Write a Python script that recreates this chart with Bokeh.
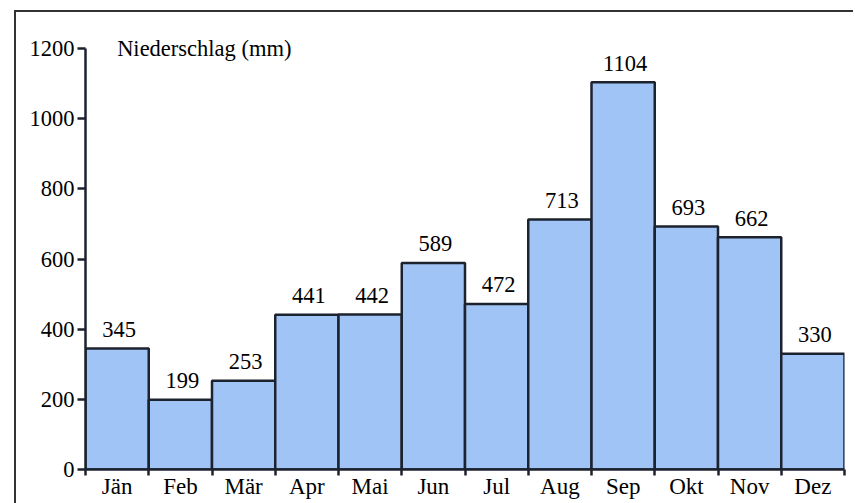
from bokeh.plotting import figure
from bokeh.models import FixedTicker, Label, ColumnDataSource, Range1d
from bokeh.core.properties import value
from bokeh.embed import file_html
from bokeh.resources import INLINE

months = ["Jän", "Feb", "Mär", "Apr", "Mai", "Jun", "Jul", "Aug", "Sep", "Okt", "Nov", "Dez"]
precip = [345, 199, 253, 441, 442, 589, 472, 713, 1104, 693, 662, 330]
y_ticks = [0, 200, 400, 600, 800, 1000, 1200]
title_text = "Niederschlag (mm)"

AXIS_FONT = "Liberation Serif"
FS = "22.5px"
DARK = "#1c222e"

x_center = [i + 0.5 for i in range(len(months))]
src = ColumnDataSource(dict(x=x_center, top=precip, label=[str(v) for v in precip]))

p = figure(width=839, height=493,
           x_range=Range1d(0, len(months)), y_range=Range1d(0, 1260),
           output_backend="svg", toolbar_location=None,
           min_border_left=69, min_border_right=11, min_border_top=15, min_border_bottom=36)

p.vbar(x="x", top="top", bottom=0, width=1, source=src,
       fill_color="#A0C4F5", line_color=DARK, line_width=2.5)
p.text(x="x", y="top", text="label", source=src, text_align="center",
       text_baseline="alphabetic", x_offset=2, y_offset=-19, text_font=value("Times New Roman"),
       text_font_size=FS, text_color="black")

p.add_layout(Label(x=0.5, y=1200, text=title_text, text_baseline="middle",
                   text_font="serif", text_font_size=FS, text_color="black"))

p.grid.visible = False
p.outline_line_color = None
p.background_fill_color = "white"
p.border_fill_color = "white"

ya = p.yaxis[0]
ya.ticker = FixedTicker(ticks=y_ticks)
ya.bounds = (0, 1200)
ya.axis_line_color = DARK
ya.axis_line_width = 2.5
ya.major_tick_line_color = DARK
ya.major_tick_line_width = 2.5
ya.major_tick_out = 8
ya.major_tick_in = 0
ya.minor_tick_line_color = None
ya.major_label_standoff = 3
ya.major_label_text_font = AXIS_FONT
ya.major_label_text_font_size = FS
ya.major_label_text_color = "black"

xa = p.xaxis[0]
xa.ticker = FixedTicker(ticks=x_center, minor_ticks=list(range(len(months) + 1)))
xa.major_label_overrides = {c: m for c, m in zip(x_center, months)}
xa.axis_line_color = DARK
xa.axis_line_width = 2.5
xa.major_tick_line_color = None
xa.major_tick_out = 0
xa.major_tick_in = 0
xa.minor_tick_line_color = DARK
xa.minor_tick_line_width = 2.5
xa.minor_tick_out = 6
xa.minor_tick_in = 0
xa.major_label_standoff = -2
xa.major_label_text_font = AXIS_FONT
xa.major_label_text_font_size = "23px"
xa.major_label_text_color = "black"

p.margin = (10, 0, 0, 14)
p.styles = {"border-left": "2px solid #333", "border-top": "2px solid #333"}

open("out.html", "w").write(file_html(p, INLINE))
